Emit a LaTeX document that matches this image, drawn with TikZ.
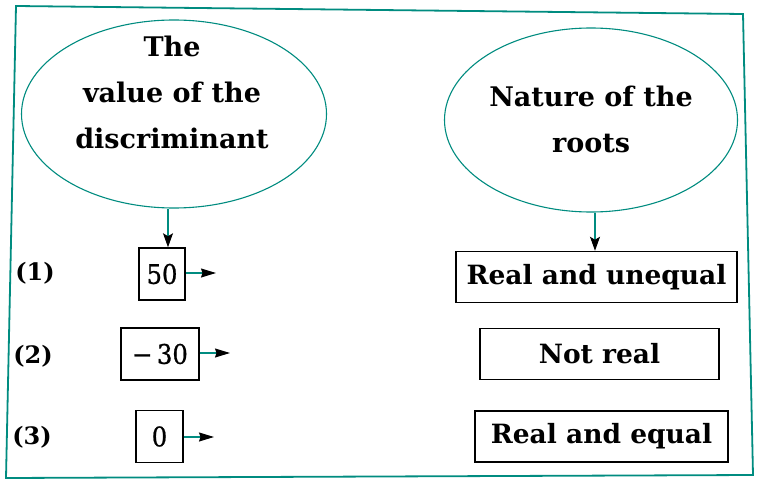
\documentclass[tikz,border=0pt]{standalone}
\usepackage{fontspec}
\setmainfont{DejaVu Serif}
\newfontfamily\condfont[FakeBold=0.8]{DejaVu Serif Condensed}
\usetikzlibrary{shapes.geometric,arrows.meta}
\definecolor{tealc}{RGB}{0,140,128}
\begin{document}
\begin{tikzpicture}[x=1pt,y=-1pt,
  frame/.style={draw=tealc,line width=1.8pt},
  oval/.style={ellipse,draw=tealc,line width=1.1pt,inner sep=0pt},
  head/.style={font=\bfseries\fontsize{27}{46}\selectfont,align=center,inner sep=0pt},
  numbox/.style={draw=black,line width=1.5pt,inner sep=0pt,minimum height=52pt,font=\condfont\fontsize{27}{30}\selectfont},
  rootbox/.style={draw=black,line width=1.5pt,inner sep=0pt,minimum height=51pt,font=\bfseries\fontsize{26.5}{30}\selectfont},
  idx/.style={font=\bfseries\fontsize{24}{28}\selectfont,inner sep=0pt},
  downarr/.style={draw=tealc,line width=1.1pt,-{Stealth[length=14pt,width=10pt,inset=3pt,color=black]}},
  sidearr/.style={draw=tealc,line width=1.2pt,-{Stealth[length=15pt,width=9pt,inset=1.5pt,color=black]}}]
\useasboundingbox (0,0) rectangle (765,497);
\fill[white] (0,0) rectangle (765,497);
% frame
\draw[frame] (16,6) -- (743,14) -- (753,475) -- (6,478) -- cycle;
% ellipses
\node[oval,minimum width=305pt,minimum height=188pt] (e1) at (174,114) {};
\node[head] (t1) at (172,92) {The\\value of the\\discriminant};
\node[oval,minimum width=293pt,minimum height=184pt] (e2) at (591,120) {};
\node[head] (t2) at (591,119) {Nature of the\\roots};
% number boxes
\node[numbox,minimum width=46pt] (b1) at (162,274) {50};
\node[numbox,minimum width=78pt] (b2) at (160,354) {−\,30};
\node[numbox,minimum width=47pt] (b3) at (159.5,436.5) {0};
% root boxes
\node[rootbox,minimum width=281pt] (r1) at (596.5,277) {Real and unequal};
\node[rootbox,minimum width=239pt] (r2) at (599.5,354) {Not real};
\node[rootbox,minimum width=253pt] (r3) at (601.5,436.5) {Real and equal};
% indices
\node[idx] (i1) at (35,273) {(1)};
\node[idx] (i2) at (33,356) {(2)};
\node[idx] (i3) at (32,437) {(3)};
% arrows
\draw[downarr] ([xshift=-6pt]e1.south) -- ([xshift=6pt]b1.north);
\draw[downarr] ([xshift=4pt]e2.south) -- ([xshift=-1.5pt]r1.north);
\coordinate (a1) at (216,273);
\coordinate (a2) at (230,353);
\coordinate (a3) at (214,437);
\draw[sidearr] (b1.east |- a1) -- (a1);
\draw[sidearr] (b2.east |- a2) -- (a2);
\draw[sidearr] (b3.east |- a3) -- (a3);
\end{tikzpicture}
\end{document}
